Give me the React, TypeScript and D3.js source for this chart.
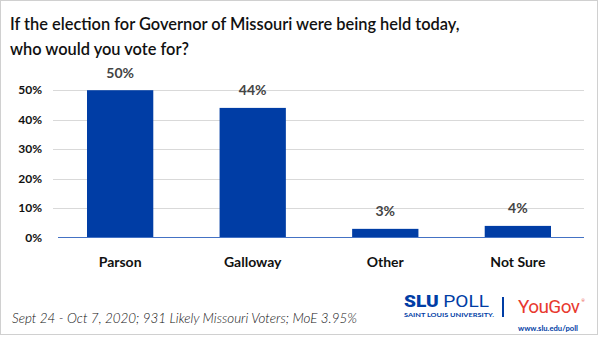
import React from 'react';
import * as d3 from 'd3';

// poll results
const candidates = ['Parson', 'Galloway', 'Other', 'Not Sure'];
const shares = [50, 44, 3, 4];
const yTicks = [0, 10, 20, 30, 40, 50];

const titleLines = [
  'If the election for Governor of Missouri were being held today,',
  'who would you vote for?',
];
const footnote = 'Sept 24 - Oct 7, 2020; 931 Likely Missouri Voters; MoE 3.95%';

const W = 600;
const H = 337;
const font = 'Lato, "Open Sans", sans-serif';

export default function App() {
  const x = d3.scaleBand<string>().domain(candidates).range([87, 551]).paddingInner(0.5).paddingOuter(0);
  const y = d3.scaleLinear().domain([0, 50]).range([237.7, 90.2]);

  return (
    <svg
      width={W}
      height={H}
      style={{ position: 'absolute', left: 0, top: 0, background: '#fff' }}
      fontFamily={font}
    >
      <rect x={0.5} y={0.5} width={W - 3} height={H - 3} fill="#fff" stroke="#d0d0d0" />

      {titleLines.map((t, i) => (
        <text key={i} x={10} y={30 + i * 25} fontSize={16.4} fontWeight={600} fill="#111">
          {t}
        </text>
      ))}

      {/* grid */}
      {yTicks.map(t => (
        <g key={t}>
          {t > 0 && <line x1={53} x2={584} y1={Math.round(y(t)) + 0.5} y2={Math.round(y(t)) + 0.5} stroke="#d9d9d9" strokeWidth={1} />}
          <text x={42} y={y(t)} dy="0.35em" textAnchor="end" fontSize={12} fontWeight={700} fill="#111">
            {t}%
          </text>
        </g>
      ))}

      {/* bars */}
      {candidates.map((c, i) => (
        <g key={c}>
          <rect x={x(c)} y={y(shares[i])} width={x.bandwidth()} height={y(0) - y(shares[i])} fill="#003da5" />
          <text
            x={x(c)! + x.bandwidth() / 2}
            y={y(shares[i]) - 12.5}
            textAnchor="middle"
            fontSize={14}
            fontWeight={700}
            fill="#444"
          >
            {shares[i]}%
          </text>
          <text
            x={x(c)! + x.bandwidth() / 2}
            y={267}
            textAnchor="middle"
            fontSize={14}
            fontWeight={700}
            fill="#111"
          >
            {c}
          </text>
        </g>
      ))}
      <line x1={58} x2={584} y1={237.5} y2={237.5} stroke="#4472c4" strokeWidth={1} />

      <text
        x={12}
        y={323}
        fontSize={13}
        fontStyle="italic"
        fontWeight={300}
        fill="#111"
        textLength={345}
        lengthAdjust="spacingAndGlyphs"
      >
        {footnote}
      </text>

      {/* logo */}
      <text x={404} y={307} fontSize={17} fill="#003da5" fontFamily={'Roboto, sans-serif'} textLength={85} lengthAdjust="spacingAndGlyphs">
        <tspan fontWeight={900}>SLU</tspan>
        <tspan dx={4}>POLL</tspan>
      </text>
      <text x={404} y={317} fontSize={5} fontWeight={700} fill="#003da5" textLength={90} lengthAdjust="spacingAndGlyphs">
        SAINT LOUIS UNIVERSITY.
      </text>
      <line x1={503} x2={503} y1={297} y2={317} stroke="#003da5" strokeWidth={2} />
      <text x={518} y={313} fontSize={19} fill="#e8392f" fontFamily={'Roboto, sans-serif'} letterSpacing={-0.6}>
        YouGov
        <tspan fontSize={4} dx={2} dy={-11}>®</tspan>
      </text>
      <text x={518} y={331} fontSize={7} fontWeight={700} fill="#003da5" textLength={60} lengthAdjust="spacingAndGlyphs">
        www.slu.edu/poll
      </text>
    </svg>
  );
}
